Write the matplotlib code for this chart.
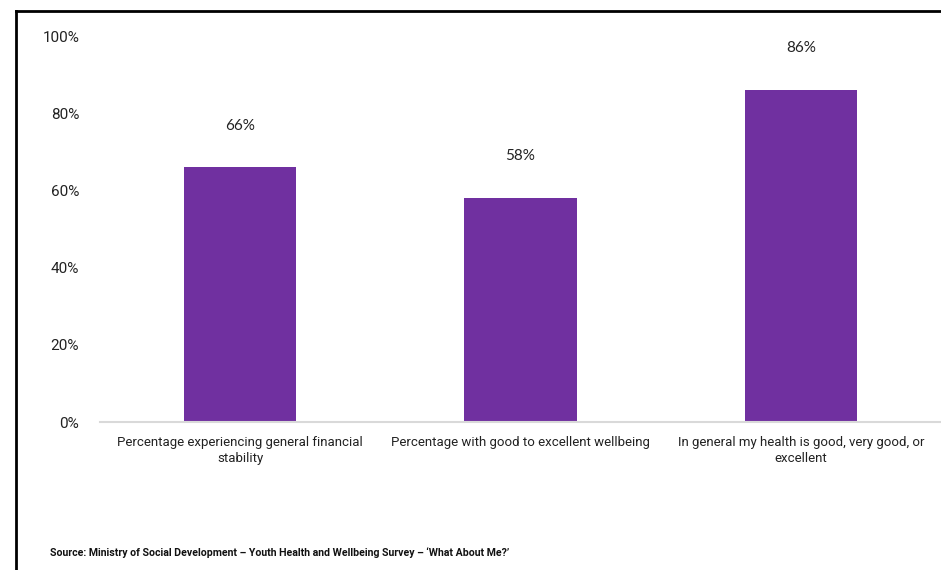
import matplotlib.pyplot as plt
from matplotlib.lines import Line2D

categories = [
    "Percentage experiencing general financial\nstability",
    "Percentage with good to excellent wellbeing",
    "In general my health is good, very good, or\nexcellent",
]
values = [66, 58, 86]
yticks = [0, 20, 40, 60, 80, 100]
source = "Source: Ministry of Social Development \u2013 Youth Health and Wellbeing Survey \u2013 \u2018What About Me?\u2019"

purple = "#7030a0"

fig = plt.figure(figsize=(9.41, 5.70), dpi=100)
ax = fig.add_axes([100 / 941, (570 - 422) / 570, 841 / 941, 386 / 570])

x = range(len(categories))
ax.bar(x, values, width=0.4, color=purple, zorder=2)
ax.set_xlim(-0.5, 2.5)
ax.set_ylim(0, 100)

for xi, v in zip(x, values):
    ax.text(xi, v + 9, f"{v}%", ha="center", va="bottom",
            fontsize=11, family="Lato", color="#222222")

ax.set_yticks(yticks)
ax.set_yticklabels([f"{t}%" for t in yticks], family="Roboto", fontsize=11, color="#222222")
ax.set_xticks(list(x))
ax.set_xticklabels(categories, family="Roboto", fontsize=9.5, color="#222222", linespacing=1.3)
ax.tick_params(length=0, pad=10)
ax.tick_params(axis="y", pad=15)

for s in ["top", "right", "left"]:
    ax.spines[s].set_visible(False)
ax.spines["bottom"].set_color("#d9d9d9")
ax.spines["bottom"].set_linewidth(1.5)

# frame lines on the left and top edge
fig.add_artist(Line2D([16 / 941, 16 / 941], [0, (570 - 11) / 570], color="black", lw=2))
fig.add_artist(Line2D([16 / 941, 1], [(570 - 11) / 570, (570 - 11) / 570], color="black", lw=2))

fig.text(50 / 941, (570 - 553) / 570, source, family="Roboto", fontweight="bold",
         fontsize=7.6, va="center", ha="left", color="#111111")

plt.savefig("out.png", dpi=100)
